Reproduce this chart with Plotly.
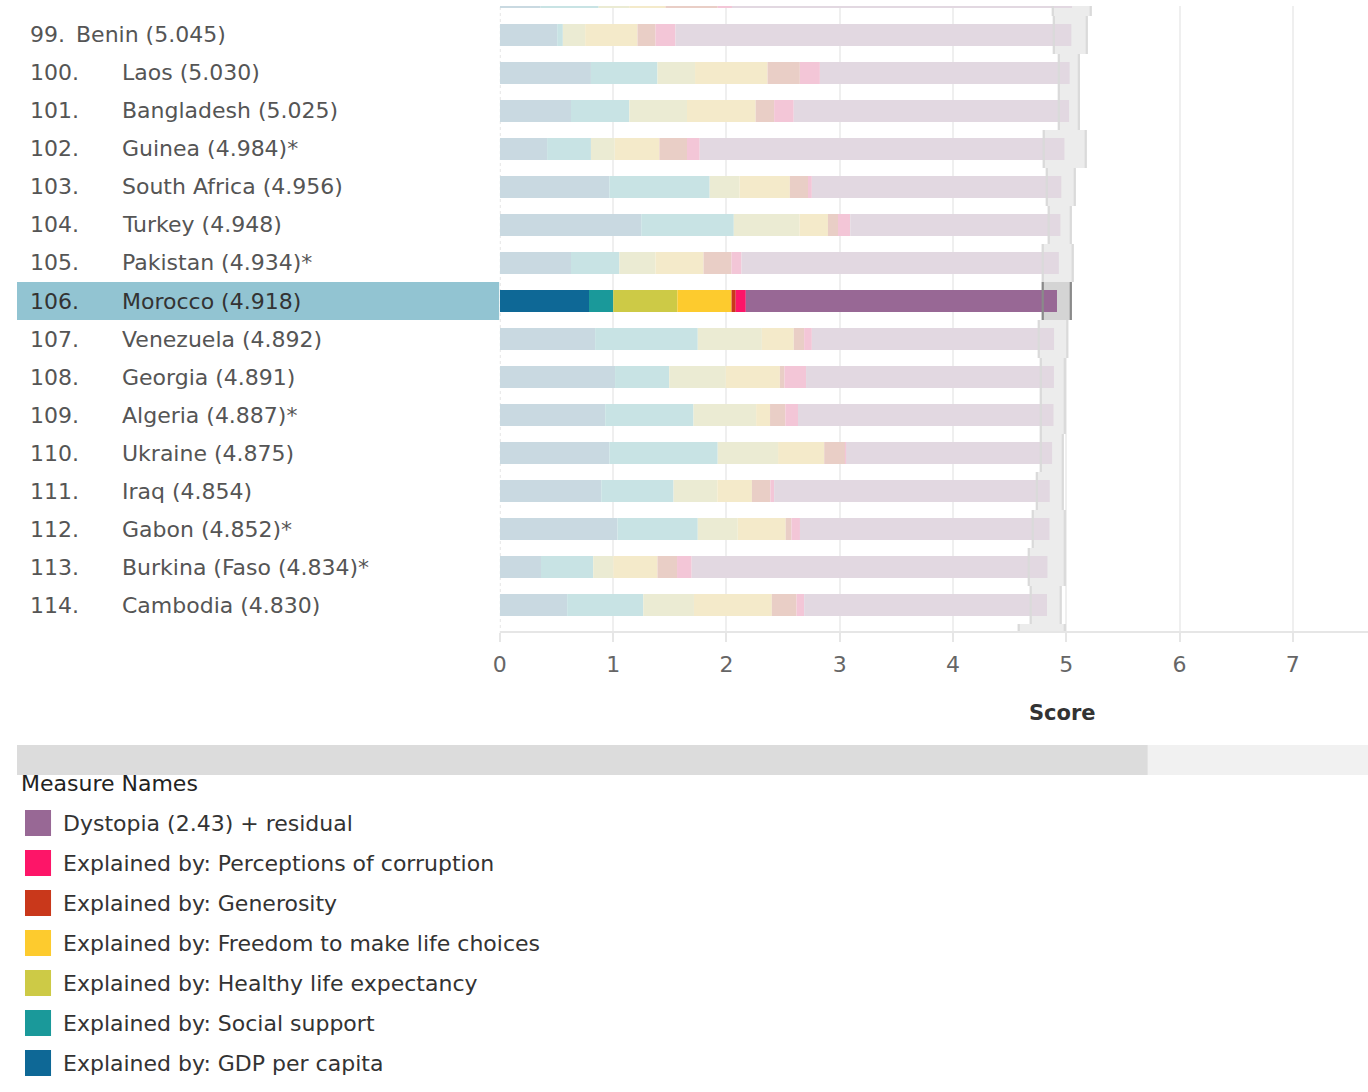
import numpy as np
import plotly.graph_objects as go

# ---------------- data ----------------
ranks = [98, 99, 100, 101, 102, 103, 104, 105, 106, 107, 108, 109, 110, 111, 112, 113, 114, 115]
countries = ["Gambia", "Benin", "Laos", "Bangladesh", "Guinea", "South Africa", "Turkey",
             "Pakistan", "Morocco", "Venezuela", "Georgia", "Algeria", "Ukraine", "Iraq",
             "Gabon", "Burkina (Faso", "Cambodia", "Niger"]
scores = [5.051, 5.045, 5.030, 5.025, 4.984, 4.956, 4.948, 4.934, 4.918, 4.892, 4.891,
          4.887, 4.875, 4.854, 4.852, 4.834, 4.830, 4.794]
stars = ["*", "", "", "", "*", "", "", "*", "", "", "", "*", "", "", "*", "*", "", "*"]

gdp = [0.360, 0.506, 0.804, 0.628, 0.417, 0.966, 1.248, 0.628, 0.787, 0.841, 1.017,
       0.930, 0.966, 0.895, 1.038, 0.363, 0.594, 0.200]
social = [0.512, 0.050, 0.587, 0.515, 0.387, 0.886, 0.817, 0.427, 0.214, 0.906, 0.478,
          0.779, 0.957, 0.638, 0.709, 0.461, 0.672, 0.450]
health = [0.270, 0.197, 0.332, 0.509, 0.210, 0.264, 0.580, 0.319, 0.566, 0.566, 0.499,
          0.553, 0.533, 0.387, 0.353, 0.177, 0.447, 0.250]
freedom = [0.320, 0.462, 0.640, 0.606, 0.394, 0.444, 0.251, 0.424, 0.478, 0.281, 0.478,
           0.123, 0.407, 0.305, 0.423, 0.390, 0.688, 0.450]
generosity = [0.461, 0.159, 0.285, 0.163, 0.244, 0.160, 0.089, 0.247, 0.037, 0.092, 0.041,
              0.135, 0.189, 0.163, 0.051, 0.173, 0.218, 0.150]
corruption = [0.126, 0.176, 0.177, 0.173, 0.112, 0.034, 0.108, 0.088, 0.089, 0.068, 0.190,
              0.112, 0.005, 0.033, 0.075, 0.129, 0.067, 0.130]
dystopia = [3.002, 3.495, 2.205, 2.431, 3.220, 2.202, 1.855, 2.801, 2.747, 2.138, 2.188,
            2.255, 1.818, 2.433, 2.203, 3.141, 2.144, 3.164]

ci_low = [4.881, 4.890, 4.934, 4.934, 4.801, 4.828, 4.845, 4.792, 4.792, 4.757, 4.775,
          4.775, 4.775, 4.740, 4.704, 4.669, 4.686, 4.580]
ci_high = [5.216, 5.181, 5.111, 5.111, 5.172, 5.075, 5.040, 5.057, 5.040, 5.009, 4.987,
           4.987, 4.969, 4.969, 4.987, 4.987, 4.951, 4.987]

highlight = "Morocco"

measure_names = ["Explained by: GDP per capita", "Explained by: Social support",
                 "Explained by: Healthy life expectancy", "Explained by: Freedom to make life choices",
                 "Explained by: Generosity", "Explained by: Perceptions of corruption",
                 "Dystopia (2.43) + residual"]
x_ticks = [0, 1, 2, 3, 4, 5, 6, 7]

# ---------------- style ----------------
full_colors = ["#0e6896", "#1a999a", "#cdca46", "#fdcb2e", "#c9381b", "#fd1568", "#986895"]
faded_colors = ["#c9d9e1", "#c8e3e4", "#ebebd3", "#f4eaca", "#e9cec6", "#f3c6d7", "#e2d8e1"]
FONT = "DejaVu Sans"
W, H = 1368, 1092
# horizontal mapping observed in the rendered page: paper 0..1 -> pixels 8..1368
X0, WX = 8, 1360
PLOT_LEFT, PLOT_TOP, PLOT_BOTTOM = 500.5, 6, 631
PX_PER_UNIT = 113.2
Y_RANGE = [16.684, 0.237]


def px(x):
    return max(0.0, (x - X0) / WX)


def py(y):
    return 1 - y / H


def row_to_paper(i):
    frac = (i - Y_RANGE[1]) / (Y_RANGE[0] - Y_RANGE[1])
    return py(PLOT_TOP + frac * (PLOT_BOTTOM - PLOT_TOP))


n = len(ranks)
row = np.arange(n)
sel = [c == highlight for c in countries]

fig = go.Figure()

# highlighted row in label column
fig.add_bar(x=[1 if s else 0 for s in sel], y=row, orientation="h", width=1.0,
            marker=dict(color="#92c4d2", line_width=0), xaxis="x2", yaxis="y",
            hoverinfo="skip", showlegend=False)

# confidence band
lo = np.array(ci_low)
hi = np.array(ci_high)
fig.add_bar(x=hi - lo, base=lo, y=row, orientation="h", width=1.0,
            marker=dict(color=["#d4d4d4" if s else "#ececec" for s in sel], line_width=0),
            hoverinfo="skip", showlegend=False)

# stacked segments
segs = [gdp, social, health, freedom, generosity, corruption, dystopia]
cum = np.zeros(n)
for vals, name, fc, lc in zip(segs, measure_names, full_colors, faded_colors):
    v = np.array(vals)
    fig.add_bar(x=v, base=cum.copy(), y=row, orientation="h", width=0.58, name=name,
                marker=dict(color=[fc if s else lc for s in sel], line_width=0),
                showlegend=False)
    cum += v

# whisker edges
ew = 0.02
for edge in (lo, hi):
    fig.add_bar(x=np.full(n, ew), base=edge - ew / 2, y=row, orientation="h", width=1.0,
                marker=dict(color=["#8a8a8a" if s else "#dadada" for s in sel], line_width=0),
                hoverinfo="skip", showlegend=False)

annotations = []
# row labels (only rows whose centre lies inside the plotted window)
for i, (r, c, sc, st, s) in enumerate(zip(ranks, countries, scores, stars, sel)):
    if not (Y_RANGE[1] <= i <= Y_RANGE[0]):
        continue
    yy = row_to_paper(i)
    col = "#333333" if s else "#555555"
    annotations.append(dict(text=f"{r}.", x=px(29), y=yy, xref="paper", yref="paper",
                            xanchor="left", yanchor="middle", showarrow=False,
                            font=dict(family=FONT, size=22, color=col)))
    name_x = 75 if r < 100 else 121
    annotations.append(dict(text=f"{c} ({sc:.3f}){st}", x=px(name_x), y=yy, xref="paper",
                            yref="paper", xanchor="left", yanchor="middle", showarrow=False,
                            font=dict(family=FONT, size=22, color=col)))

# axis title
annotations.append(dict(text="Score", x=px(1063), y=py(713), xref="paper", yref="paper",
                        xanchor="center", yanchor="middle", showarrow=False,
                        font=dict(family=FONT, size=21, color="#333333", weight="bold")))

# legend (custom, Tableau style)
shapes = []
annotations.append(dict(text="Measure Names", x=px(20), y=py(783), xref="paper", yref="paper",
                        xanchor="left", yanchor="middle", showarrow=False,
                        font=dict(family=FONT, size=22, color="#222222")))
for k, (name, colr) in enumerate(zip(measure_names[::-1], full_colors[::-1])):
    cy = 823 + 40 * k
    shapes.append(dict(type="rect", xref="paper", yref="paper", x0=px(26), x1=px(52),
                       y0=py(cy + 13), y1=py(cy - 13), fillcolor=colr, line_width=0))
    annotations.append(dict(text=name, x=px(62), y=py(cy), xref="paper", yref="paper",
                            xanchor="left", yanchor="middle", showarrow=False,
                            font=dict(family=FONT, size=22, color="#333333")))

# scrollbar
shapes.append(dict(type="rect", xref="paper", yref="paper", x0=px(18), x1=px(1148),
                   y0=py(775), y1=py(745), fillcolor="#dcdcdc", line_width=0))
shapes.append(dict(type="rect", xref="paper", yref="paper", x0=px(1148), x1=1,
                   y0=py(775), y1=py(745), fillcolor="#f1f1f1", line_width=0))
# dashed zero reference line
shapes.append(dict(type="line", xref="x", yref="paper", x0=0, x1=0, y0=py(640), y1=py(PLOT_TOP),
                   line=dict(color="#c8c8c8", width=1, dash="dot"), layer="between"))

fig.update_layout(
    width=W, height=H, margin=dict(l=0, r=0, t=0, b=0),
    barmode="overlay", showlegend=False,
    plot_bgcolor="white", paper_bgcolor="white",
    xaxis=dict(domain=[px(PLOT_LEFT), 1], range=[0, (W - PLOT_LEFT) / PX_PER_UNIT],
               tickvals=x_ticks, ticktext=[str(t) for t in x_ticks],
               showgrid=True, gridcolor="#efefef", gridwidth=2,
               zeroline=True, zerolinecolor="rgba(0,0,0,0)",
               showline=True, linecolor="#e6e6e6", linewidth=2,
               ticks="outside", ticklen=9, tickwidth=2, tickcolor="#e6e6e6",
               tickfont=dict(family=FONT, size=22, color="#666666"),
               ticklabelstandoff=4, anchor="y", fixedrange=True),
    xaxis2=dict(domain=[px(18), px(500)], range=[0, 1], visible=False, anchor="y",
                fixedrange=True),
    yaxis=dict(domain=[py(PLOT_BOTTOM), py(PLOT_TOP)], range=Y_RANGE, visible=False,
               fixedrange=True),
    annotations=annotations,
    shapes=shapes,
)

fig.write_html("out.html")
